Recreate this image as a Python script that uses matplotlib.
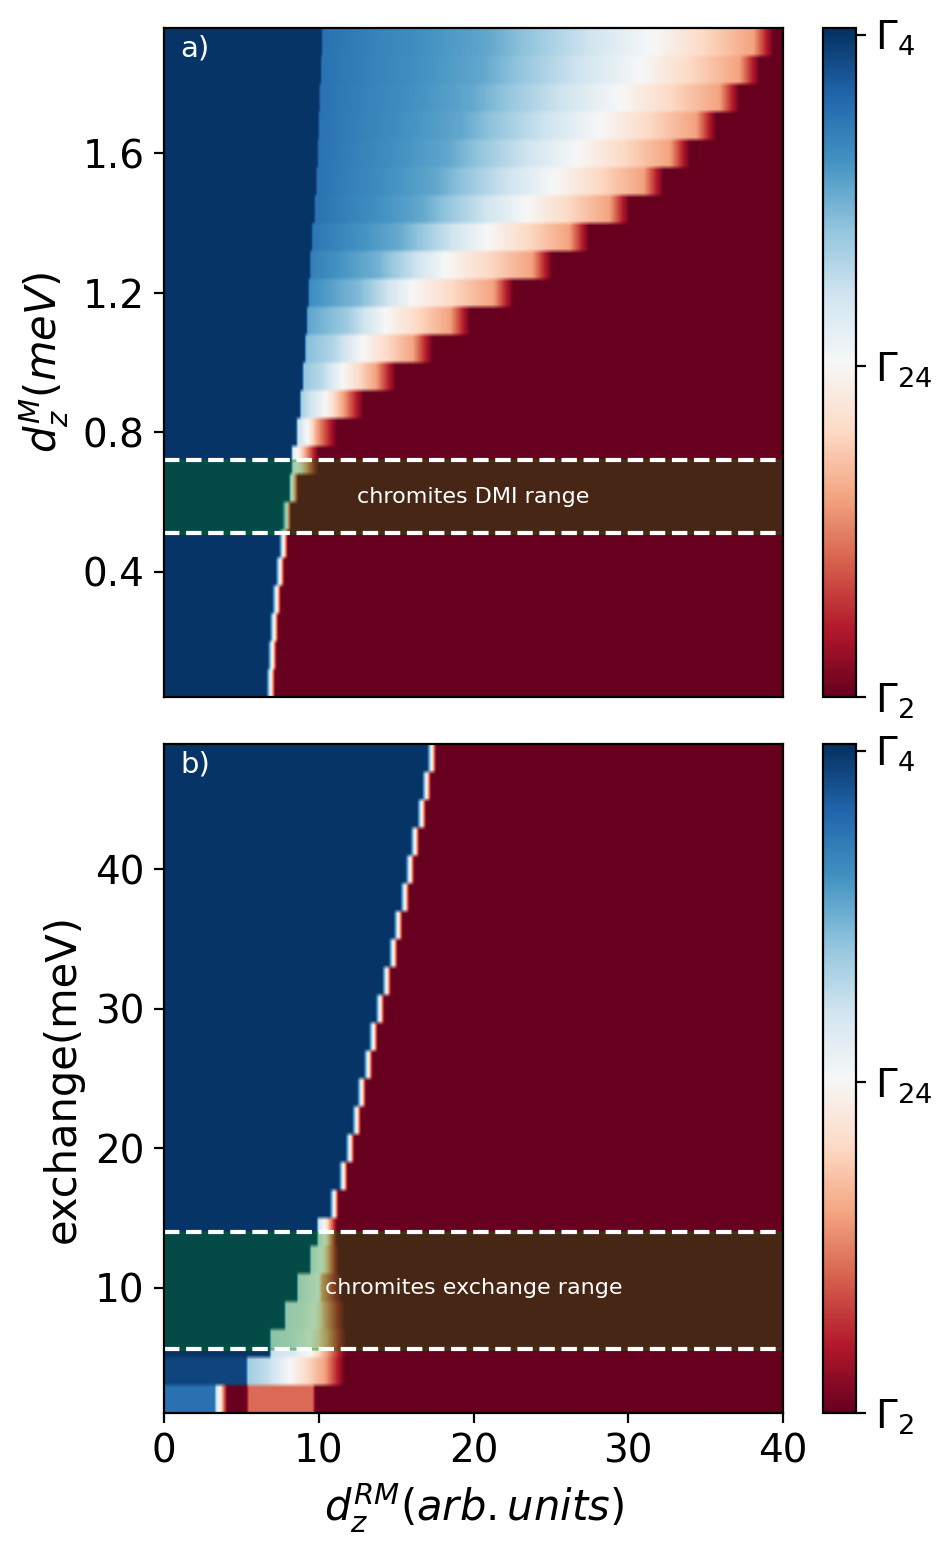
import numpy as np
import matplotlib
matplotlib.use("Agg")
import matplotlib.pyplot as plt

plt.rcParams['font.size'] = 14

# ---- panel a) : one row per d_z^M value (meV) ----
dmi_y = [0.08, 0.16, 0.24, 0.32, 0.40, 0.48, 0.56, 0.64, 0.72, 0.80, 0.88, 0.96,
         1.04, 1.12, 1.20, 1.28, 1.36, 1.44, 1.52, 1.60, 1.68, 1.76, 1.84, 1.92]
# d_z^RM where the Gamma4 region ends
dmi_x_blue = [6.90, 7.00, 7.12, 7.28, 7.50, 7.72, 7.93, 8.12, 8.25, 8.57, 8.79, 8.96,
              9.11, 9.22, 9.33, 9.43, 9.55, 9.72, 9.83, 9.92, 9.98, 10.04, 10.13, 10.19]
# level just after that edge
dmi_v_edge = [0.50, 0.50, 0.50, 0.50, 0.50, 0.50, 0.50, 0.52, 0.56, 0.62, 0.67, 0.70,
              0.72, 0.77, 0.82, 0.85, 0.87, 0.88, 0.88, 0.88, 0.88, 0.88, 0.88, 0.88]
# where the mixed Gamma24 state is half way
dmi_x_white = [6.90, 7.00, 7.12, 7.28, 7.50, 7.72, 7.93, 8.30, 8.60, 9.30, 10.5, 11.6,
               12.9, 14.4, 16.1, 18.3, 21.0, 23.6, 25.4, 26.9, 28.4, 29.7, 31.0, 31.8]
# where the Gamma2 region starts
dmi_x_red = [6.90, 7.00, 7.12, 7.28, 7.50, 7.72, 7.93, 8.70, 10.0, 11.2, 12.9, 15.0,
             17.4, 19.8, 22.6, 25.1, 27.5, 30.1, 32.3, 34.0, 35.7, 37.2, 38.5, 39.4]

# ---- panel b) : one row per exchange value (meV) ----
exch_y = [2, 4, 6, 8, 10, 12, 14, 16, 18, 20, 22, 24,
          26, 28, 30, 32, 34, 36, 38, 40, 42, 44, 46, 48]
exch_v_left = [0.88, 0.97] + [1.0] * 22
exch_x_blue = [3.30, 5.34, 6.85, 7.80, 8.60, 9.43, 9.90, 11.00, 11.59, 12.02, 12.45, 12.77,
               13.20, 13.53, 13.96, 14.39, 14.82, 15.14, 15.57, 15.90, 16.22, 16.65, 16.97, 17.30]
exch_v_edge = [0.60, 0.68, 0.62, 0.60, 0.60, 0.60, 0.60] + [0.5] * 17
exch_x_white = [3.60, 8.20, 9.50, 9.80, 10.0, 10.2, 10.4] + exch_x_blue[7:]
exch_x_red = [4.10, 11.7, 11.8, 11.7, 11.5, 11.3, 11.2] + exch_x_blue[7:]
# reddish pocket in the lowest exchange row
pocket_x = [5.3, 5.5, 9.6, 9.8]
pocket_v = [0.0, 0.22, 0.22, 0.0]

dmi_range = (0.51, 0.72)
exch_range = (5.6, 14.0)

NX = 620      # columns across 0..40
REP = 6       # sub rows per data row (keeps the steps, softens the seams)
HALF = 0.3    # half width of a sharp switch


def row_profile(xc, v_left, x_blue, v_edge, x_white, x_red):
    if x_red - x_blue < 0.3:
        # straight Gamma4 -> Gamma2 switch
        xp = [0, x_blue - HALF, x_blue + HALF, 40]
        vp = [v_left, v_left, 0.0, 0.0]
    else:
        xp = [0, x_blue - 0.05, x_blue + 0.1]
        vp = [v_left, v_left, v_edge]
        if x_white - x_blue > 2:
            # stays bluish a while before fading to white
            xp.append((x_blue + x_white) / 2)
            vp.append(0.5 + 0.7 * (v_edge - 0.5))
        xp.append(x_white)
        vp.append(0.5)
        if x_red - 1.3 > x_white + 0.1:
            xp.append(x_red - 1.3)
            vp.append(0.3)
        xp += [x_red, 40]
        vp += [0.0, 0.0]
    return np.interp(xc, xp, vp)


def build(xc, v_left, x_blue, v_edge, x_white, x_red):
    rows = [row_profile(xc, *p) for p in zip(v_left, x_blue, v_edge, x_white, x_red)]
    return np.array(rows)


xc = (np.arange(NX) + 0.5) * 40 / NX
img_a = build(xc, [1.0] * len(dmi_y), dmi_x_blue, dmi_v_edge, dmi_x_white, dmi_x_red)
img_b = build(xc, exch_v_left, exch_x_blue, exch_v_edge, exch_x_white, exch_x_red)
img_b[0] = np.maximum(img_b[0], np.interp(xc, pocket_x, pocket_v))

fig = plt.figure(figsize=(4.76, 7.77), dpi=200)
ax1 = fig.add_axes([0.1723, 0.5515, 0.6502, 0.4305])
cax1 = fig.add_axes([0.8645, 0.5515, 0.0347, 0.4305])
ax2 = fig.add_axes([0.1723, 0.0907, 0.6502, 0.4305])
cax2 = fig.add_axes([0.8645, 0.0907, 0.0347, 0.4305])

panels = [
    (ax1, cax1, img_a, dmi_y, dmi_range, 'chromites DMI range', 'a)'),
    (ax2, cax2, img_b, exch_y, exch_range, 'chromites exchange range', 'b)'),
]
for ax, cax, img, yy, rng, txt, tag in panels:
    dy = yy[1] - yy[0]
    im = ax.imshow(np.repeat(img, REP, axis=0), origin='lower', aspect='auto',
                   extent=[0, 40, yy[0] - dy / 2, yy[-1] + dy / 2],
                   cmap='RdBu', vmin=0, vmax=1.01,
                   interpolation='bilinear', interpolation_stage='rgba')
    ax.axhspan(rng[0], rng[1], color='green', alpha=0.3)
    for yl in rng:
        ax.axhline(yl, color='white', ls='--', lw=1.5)
    ax.text(20, (rng[0] + rng[1]) / 2 if tag == 'a)' else 10, txt,
            color='white', fontsize=8, ha='center', va='center')
    ax.text(0.027, 0.99, tag, transform=ax.transAxes, color='white',
            fontsize=10.5, ha='left', va='top')
    ax.set_xlim(0, 40)
    cb = fig.colorbar(im, cax=cax, ticks=[0, 0.5, 1.0])
    cb.ax.set_yticklabels([r'$\Gamma_2$', r'$\Gamma_{24}$', r'$\Gamma_4$'])

ax1.set_xticks([])
ax1.set_yticks([0.4, 0.8, 1.2, 1.6])
ax1.set_ylabel(r'$d_z^M(meV)$', fontsize=15)
ax2.set_xticks([0, 10, 20, 30, 40])
ax2.set_yticks([10, 20, 30, 40])
ax2.set_ylabel('exchange(meV)', fontsize=15)
ax2.set_xlabel(r'$d_z^{RM}(arb.units)$', fontsize=15)

fig.savefig('out.png', dpi=200)
